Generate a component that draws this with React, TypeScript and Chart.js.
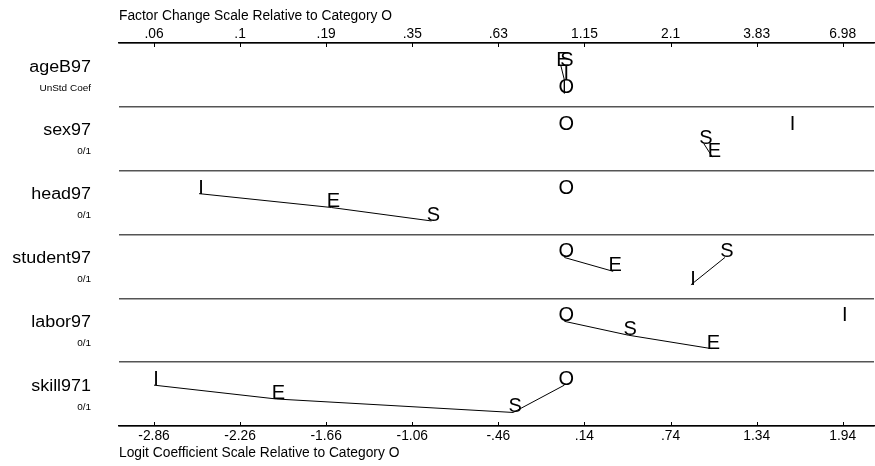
import React, { useEffect, useRef } from "react";
import { Chart, registerables } from "chart.js";

Chart.register(...registerables);

// ---------- data ----------
const variables = ["ageB97", "sex97", "head97", "student97", "labor97", "skill971"];
const varUnits = ["UnStd Coef", "0/1", "0/1", "0/1", "0/1", "0/1"];
const categories = ["O", "E", "S", "I"];
// logit coefficients relative to category O
const logitO = [0, 0, 0, 0, 0, 0];
const logitE = [-0.024, 1.032, -1.624, 0.34, 1.025, -2.007];
const logitS = [0.003, 0.972, -0.926, 1.119, 0.445, -0.357];
const logitI = [0.0, 1.576, -2.546, 0.882, 1.94, -2.86];
// vertical stacking slot of each letter inside its row (0 = top)
const slotO = [2, 0, 0, 0, 0, 0];
const slotE = [0, 2, 1, 1, 2, 1];
const slotS = [0, 1, 2, 0, 1, 2];
const slotI = [1, 0, 0, 2, 0, 0];
// connected (not significantly different) categories
const linkRows = [0, 1, 2, 3, 3, 4, 5];
const linkPaths = ["EIO", "SE", "IES", "OE", "IS", "OSE", "IESO"];
// axis ticks
const logitTicks = [-2.86, -2.26, -1.66, -1.06, -0.46, 0.14, 0.74, 1.34, 1.94];
const logitTickLabels = ["-2.86", "-2.26", "-1.66", "-1.06", "-.46", ".14", ".74", "1.34", "1.94"];
const factorTickLabels = [".06", ".1", ".19", ".35", ".63", "1.15", "2.1", "3.83", "6.98"];

const FONT = "'Liberation Sans', Arial, Helvetica, sans-serif";
const SLOT_FRAC = [0.36, 0.577, 0.788];
const X_MIN = -3.104;
const X_MAX = 2.158;

const logitOf: Record<string, number[]> = { O: logitO, E: logitE, S: logitS, I: logitI };
const slotOf: Record<string, number[]> = { O: slotO, E: slotE, S: slotS, I: slotI };

function pt(letter: string, row: number) {
  return { x: logitOf[letter][row], y: row + SLOT_FRAC[slotOf[letter][row]] };
}

function drawStretched(ctx: CanvasRenderingContext2D, text: string, xr: number, yb: number, size: number, sx: number) {
  ctx.save();
  ctx.translate(xr, yb);
  ctx.scale(sx, 1);
  ctx.font = `${size}px ${FONT}`;
  ctx.textAlign = "right";
  ctx.textBaseline = "alphabetic";
  ctx.fillStyle = "#000";
  ctx.fillText(text, 0, 0);
  ctx.restore();
}

const mlogPlugin = {
  id: "mlogplot",
  afterDraw(chart: any) {
    const ctx: CanvasRenderingContext2D = chart.ctx;
    const area = chart.chartArea;
    const xb = chart.scales.x;
    ctx.save();
    // inward tick marks on both horizontal axes
    ctx.strokeStyle = "#000";
    ctx.lineWidth = 1;
    for (const v of logitTicks) {
      const px = Math.round(xb.getPixelForValue(v)) + 0.5;
      ctx.beginPath();
      ctx.moveTo(px, area.bottom);
      ctx.lineTo(px, area.bottom - 4);
      ctx.moveTo(px, area.top);
      ctx.lineTo(px, area.top + 4);
      ctx.stroke();
    }
    // category letters
    ctx.fillStyle = "#000";
    ctx.font = `20px ${FONT}`;
    ctx.textAlign = "center";
    ctx.textBaseline = "alphabetic";
    chart.data.datasets.forEach((ds: any, i: number) => {
      if (!ds.letter) return;
      const meta = chart.getDatasetMeta(i);
      meta.data.forEach((el: any) => ctx.fillText(ds.letter, el.x + 2, el.y));
    });
    // row labels
    const ys = chart.scales.y;
    variables.forEach((name, r) => {
      const top = ys.getPixelForValue(r);
      drawStretched(ctx, name, 91, top + 28.5, 16, 1.12);
      drawStretched(ctx, varUnits[r], 91, top + 47.5, 9.5, 1.05);
    });
    ctx.restore();
  },
};

export default function App() {
  const ref = useRef<HTMLCanvasElement | null>(null);

  useEffect(() => {
    if (!ref.current) return;
    const datasets: any[] = [];
    linkPaths.forEach((path, k) => {
      const row = linkRows[k];
      datasets.push({
        data: path.split("").map((c) => pt(c, row)),
        showLine: true,
        borderColor: "#000",
        borderWidth: 1,
        pointRadius: 0,
        pointHoverRadius: 0,
      });
    });
    categories.forEach((c) => {
      datasets.push({
        letter: c,
        data: variables.map((_, r) => pt(c, r)),
        showLine: false,
        pointRadius: 0,
        pointHoverRadius: 0,
      });
    });

    const chart = new Chart(ref.current, {
      type: "scatter",
      data: { datasets },
      options: {
        animation: false,
        responsive: false,
        devicePixelRatio: 1,
        layout: { padding: { left: 0, right: 1, top: 0, bottom: 0 } },
        plugins: { legend: { display: false }, tooltip: { enabled: false } },
        scales: {
          x: {
            type: "linear",
            position: "bottom",
            min: X_MIN,
            max: X_MAX,
            afterBuildTicks: (s: any) => {
              s.ticks = logitTicks.map((v) => ({ value: v }));
            },
            afterFit: (s: any) => {
              s.height = 40;
            },
            grid: { display: false, drawTicks: false },
            border: { display: true, color: "#000", width: 1.5 },
            ticks: {
              autoSkip: false,
              maxRotation: 0,
              padding: 2,
              color: "#000",
              font: { family: FONT, size: 13.8 },
              callback: (_v: any, i: number) => logitTickLabels[i],
            },
            title: {
              display: true,
              text: "Logit Coefficient Scale Relative to Category O",
              align: "start",
              color: "#000",
              font: { family: FONT, size: 13.8 },
              padding: { top: 0, bottom: 4.4 },
            },
          },
          x2: {
            type: "linear",
            position: "top",
            min: X_MIN,
            max: X_MAX,
            afterBuildTicks: (s: any) => {
              s.ticks = logitTicks.map((v) => ({ value: v }));
            },
            afterFit: (s: any) => {
              s.height = 43;
            },
            grid: { display: false, drawTicks: false },
            border: { display: true, color: "#000", width: 1.5 },
            ticks: {
              autoSkip: false,
              maxRotation: 0,
              padding: 0.5,
              color: "#000",
              font: { family: FONT, size: 13.8 },
              callback: (_v: any, i: number) => factorTickLabels[i],
            },
            title: {
              display: true,
              text: "Factor Change Scale Relative to Category O",
              align: "start",
              color: "#000",
              font: { family: FONT, size: 13.8 },
              padding: { top: 7.6, bottom: 0 },
            },
          },
          y: {
            type: "linear",
            position: "left",
            min: 0,
            max: variables.length,
            reverse: true,
            afterBuildTicks: (s: any) => {
              s.ticks = variables.map((_, i) => ({ value: i })).concat([{ value: variables.length }]);
            },
            afterFit: (s: any) => {
              s.width = 119;
            },
            ticks: { display: false },
            border: { display: false },
            grid: { drawTicks: false, color: "#555", lineWidth: 1.5 },
          },
        },
      },
      plugins: [mlogPlugin],
    } as any);

    return () => chart.destroy();
  }, []);

  return (
    <div style={{ position: "absolute", left: 0, top: 0, width: 875, height: 466, background: "#fff" }}>
      <canvas ref={ref} width={875} height={466} style={{ width: 875, height: 466, display: "block" }} />
    </div>
  );
}
